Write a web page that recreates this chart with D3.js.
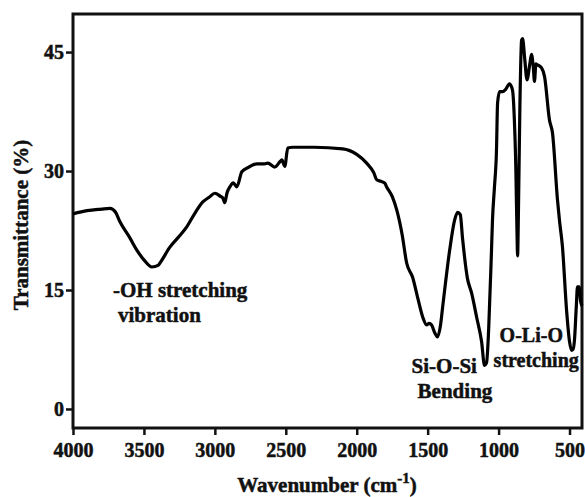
<!DOCTYPE html>
<html>
<head>
<meta charset="utf-8">
<script src="https://cdn.jsdelivr.net/npm/d3@7"></script>
<style>
  body { margin: 0; background: #fff; }
  text { font-family: "Liberation Serif", "Times New Roman", serif; font-weight: bold; fill: #111; stroke: #111; stroke-width: 0.5px; }
</style>
</head>
<body>
<div id="chart"></div>
<script>
// chart size, same as the window
const width = 585
const height = 497
const margin = {top: 14, right: 3, bottom: 69, left: 73}

// FTIR spectrum (wavenumber cm-1, transmittance %)
const wavenumber = [4000, 3900, 3800, 3739, 3700, 3669, 3600, 3549, 3500, 3444, 3400, 3387, 3317, 3250, 3197,
  3140, 3085, 3040, 3000, 2960, 2944, 2930, 2915, 2894, 2870, 2845, 2810, 2760, 2704, 2650, 2627, 2578, 2540,
  2528, 2507, 2486, 2451, 2300, 2099, 2000, 1930, 1880, 1859, 1830, 1803, 1789, 1750, 1718, 1680, 1648, 1606,
  1570, 1535, 1507, 1490, 1472, 1450, 1430, 1410, 1394, 1345, 1310, 1289, 1270, 1254, 1220, 1190, 1155, 1120,
  1099, 1085, 1070, 1050, 1043, 1029, 1015, 1007, 993, 972, 950, 923, 902, 890, 878, 870, 866, 860, 850, 838,
  831, 815, 800, 780, 768, 755, 747, 737, 726, 697, 676, 641, 620, 585, 571, 550, 521, 500, 486, 475, 465, 452,
  444, 432, 423, 412]
const transmittance = [24.6, 25.0, 25.2, 25.3, 24.8, 23.6, 21.6, 20.0, 18.8, 17.9, 18.1, 18.4, 20.4, 21.8, 23.0,
  24.7, 26.1, 26.7, 27.2, 26.8, 26.6, 26.0, 27.2, 28.0, 28.5, 28.0, 29.9, 30.5, 30.9, 30.9, 31.0, 30.5, 31.2,
  31.4, 30.6, 32.9, 33.0, 33.0, 32.8, 32.1, 31.0, 29.8, 28.9, 28.7, 28.5, 28.0, 26.8, 25.1, 22.0, 18.4, 16.6,
  14.0, 11.6, 10.6, 10.8, 10.6, 9.6, 9.1, 10.5, 12.9, 20.0, 23.8, 24.8, 24.5, 21.5, 16.5, 14.6, 11.6, 8.5,
  5.5, 5.8, 10.0, 20.0, 23.8, 28.0, 32.5, 38.6, 40.0, 40.0, 40.3, 41.0, 40.2, 37.0, 30.0, 22.0, 19.3, 25.0, 38.0, 46.5,
  46.7, 44.0, 41.5, 43.5, 44.7, 43.0, 41.3, 43.5, 43.4, 43.0, 41.9, 36.4, 34.8, 26.4, 23.8, 20.5, 12.5, 8.5, 7.4, 7.5, 8.7, 13.0,
  15.4, 15.4, 13.7, 13.0]

const xTicks = [4000, 3500, 3000, 2500, 2000, 1500, 1000, 500]
const yTicks = [0, 15, 30, 45]

// band annotations: lines of text, anchored at (wavenumber, transmittance) of the first baseline
const bandLabels = [
  {lines: ["-OH stretching", "vibration"], w: 3718, t: 14.1, indent: [0, 5], size: 21},
  {lines: ["Si-O-Si", "Bending"], w: 1613, t: 4.5, indent: [0, 6], size: 21},
  {lines: ["O-Li-O", "stretching"], w: 1035, t: 8.4, indent: [6, 0], size: 20}
]

const data = wavenumber.map((w, i) => ({w: w, t: transmittance[i]}))

const svg = d3.select("#chart")
  .append("svg")
  .attr("width", width)
  .attr("height", height)

const x = d3.scaleLinear()
  .domain([4000, 412])
  .range([margin.left, width - margin.right])

const y = d3.scaleLinear()
  .domain([-2.4, 49.8])
  .range([height - margin.bottom, margin.top])

// axes
const xAxis = svg.append("g")
  .attr("transform", `translate(0,${height - margin.bottom})`)
  .call(d3.axisBottom(x).tickValues(xTicks).tickFormat(d3.format("d"))
    .tickSize(7).tickPadding(8).tickSizeOuter(0))

const yAxis = svg.append("g")
  .attr("transform", `translate(${margin.left},0)`)
  .call(d3.axisLeft(y).tickValues(yTicks).tickFormat(d3.format("d"))
    .tickSize(7).tickPadding(2).tickSizeOuter(0))

svg.selectAll(".tick line").attr("stroke", "#111").attr("stroke-width", 2.5)
svg.selectAll(".domain").remove()
xAxis.selectAll("text").style("font-size", "20px")
yAxis.selectAll("text").style("font-size", "20px")

// frame round the plot
svg.append("rect")
  .attr("x", margin.left)
  .attr("y", margin.top)
  .attr("width", width - margin.left - margin.right)
  .attr("height", height - margin.top - margin.bottom)
  .attr("fill", "none")
  .attr("stroke", "#111")
  .attr("stroke-width", 3)

// spectrum
const line = d3.line()
  .x(d => x(d.w))
  .y(d => y(d.t))
  .curve(d3.curveMonotoneX)

svg.append("path")
  .datum(data)
  .attr("d", line)
  .attr("fill", "none")
  .attr("stroke", "#000")
  .attr("stroke-width", 3.2)
  .attr("stroke-linejoin", "round")

// band labels
bandLabels.forEach(b => {
  b.lines.forEach((txt, i) => {
    svg.append("text")
      .attr("x", x(b.w) + b.indent[i])
      .attr("y", y(b.t) + i * 25)
      .style("font-size", b.size + "px")
      .text(txt)
  })
})

// axis titles
const xTitle = svg.append("text")
  .attr("x", 327)
  .attr("y", 492)
  .attr("text-anchor", "middle")
  .style("font-size", "21px")
xTitle.append("tspan").text("Wavenumber (cm")
xTitle.append("tspan").attr("dy", -9).style("font-size", "15px").text("-1")
xTitle.append("tspan").attr("dy", 9).text(")")

svg.append("text")
  .attr("transform", "translate(28,225) rotate(-90)")
  .attr("text-anchor", "middle")
  .style("font-size", "21px")
  .text("Transmittance (%)")
</script>
</body>
</html>
